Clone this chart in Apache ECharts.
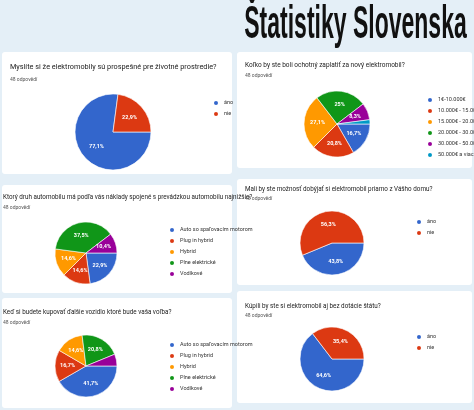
<!DOCTYPE html>
<html><head><meta charset="utf-8">
<script src="https://cdn.jsdelivr.net/npm/echarts@6/dist/echarts.min.js"></script>
<style>html,body{margin:0;padding:0;background:#e4eff7}#c{width:474px;height:410px}</style>
</head><body><div id="c"></div>
<script>
const yesNo = ['áno', 'nie'];
const priceCats = ['1€-10.000€', '10.000€ - 15.000€', '15.000€ - 20.000€', '20.000€ - 30.000€', '30.000€ - 50.000€', '50.000€ a viac'];
const carCats = ['Auto so spaľovacím motorom', 'Plug in hybrid', 'Hybrid', 'Plne elektrické', 'Vodíkové'];
const q1Values = [77.1, 22.9];
const q2Values = [16.7, 20.8, 27.1, 25, 8.3, 2.1];
const q3Values = [22.9, 14.6, 14.6, 37.5, 10.4];
const q4Values = [41.7, 16.7, 14.6, 20.8, 6.2];
const q5Values = [43.8, 56.3];
const q6Values = [64.6, 35.4];
const questions = [
 'Myslíte si že elektromobily sú prospešné pre životné prostredie?',
 'Koľko by ste boli ochotný zaplatiť za nový elektromobil?',
 'Ktorý druh automobilu má podľa vás náklady spojené s prevádzkou automobilu najnižšie?',
 'Keď si budete kupovať ďalšie vozidlo ktoré bude vaša voľba?',
 'Mali by ste možnosť dobýjať si elektromobil priamo z Vášho domu?',
 'Kúpili by ste si elektromobil aj bez dotácie štátu?'
];
const colors = ['#3366cc','#dc3912','#ff9900','#109618','#990099','#0099c6'];
const panels = [
 {cats: yesNo, vals: q1Values, card:[2,52,230,122], c:[113,132], r:38, lg:[207,94], q:[10,64,7.3], n:[10,77]},
 {cats: priceCats, vals: q2Values, card:[237,52,235,116], c:[337,124], r:33, lg:[421,91], q:[245,62,6.5], n:[245,73]},
 {cats: carCats, vals: q3Values, card:[2,185,230,108], c:[86,253], r:31, lg:[163,221], q:[3,194,6.3], n:[3,205]},
 {cats: carCats, vals: q4Values, card:[2,298,230,110], c:[86,366], r:31, lg:[163,336], q:[3,309,6.3], n:[3,320]},
 {cats: yesNo, vals: q5Values, card:[237,179,235,106], c:[332,243], r:32, lg:[410,213], q:[245,186,6.3], n:[245,196]},
 {cats: yesNo, vals: q6Values, card:[237,291,235,112], c:[332,359], r:32, lg:[410,328], q:[245,303,6.3], n:[245,313]}
];
const graphic = [{type:'text', x:237, y:2, scaleX:0.5, originX:237, style:{text:'Štatistiky Slovenska', align:'center', font:'bold 46px "Liberation Sans", sans-serif', fill:'#111'}}];
const series = [], legend = [];
panels.forEach((p,i)=>{
  graphic.push({type:'rect', shape:{x:p.card[0],y:p.card[1],width:p.card[2],height:p.card[3],r:3}, style:{fill:'#fff'}, z:-1});
  graphic.push({type:'text', x:p.q[0], y:p.q[1], style:{text:questions[i], font:p.q[2]+'px Roboto, sans-serif', fill:'#222'}});
  graphic.push({type:'text', x:p.n[0], y:p.n[1], style:{text:'48 odpovědí', font:'5px Roboto, sans-serif', fill:'#555'}});
  const names = p.cats.map(c=>c+'#'+i);
  legend.push({left:p.lg[0], top:p.lg[1], orient:'vertical', data:names, icon:'circle', itemWidth:6, itemHeight:6, itemGap:3,
    formatter:n=>n.split('#')[0], textStyle:{fontSize:5.5, color:'#333', fontFamily:'Roboto'}, selectedMode:false});
  series.push({type:'pie', center:p.c, radius:p.r, startAngle:0, clockwise:true, animation:false,
    itemStyle:{borderColor:'#fff', borderWidth:0.6},
    label:{position:'inside', color:'#fff', fontSize:5.5, fontWeight:'bold', fontFamily:'Roboto',
      formatter:d=>d.value<7?'':String(d.value).replace('.',',')+'%'},
    emphasis:{disabled:true},
    data:p.vals.map((v,k)=>({name:names[k], value:v, itemStyle:{color:colors[k]}}))});
});
const chart = echarts.init(document.getElementById('c'));
chart.setOption({backgroundColor:'#e4eff7', color:colors, graphic, legend, series});
</script></body></html>
